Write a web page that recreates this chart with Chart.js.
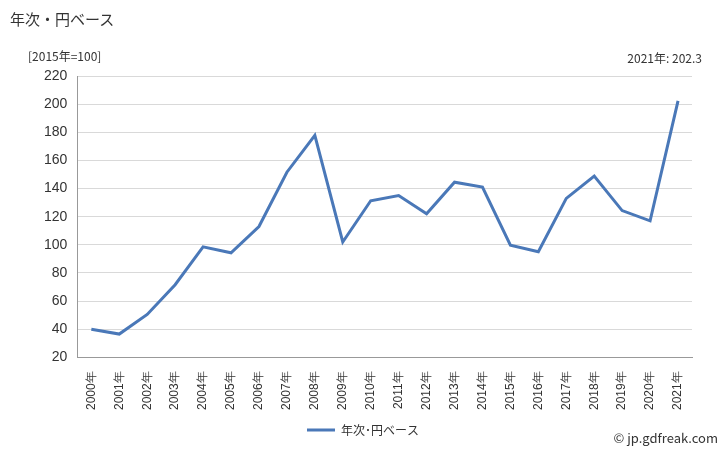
<!DOCTYPE html>
<html><head><meta charset="utf-8">
<script src="https://cdn.jsdelivr.net/npm/chart.js@4"></script>
<style>
body{margin:0;width:728px;height:450px;position:relative;font-family:"Noto Sans CJK JP","Noto Sans",sans-serif;background:#fff}
.t{position:absolute;color:#333;white-space:nowrap}
</style></head><body>
<canvas id="c" width="728" height="450" style="position:absolute;left:0;top:0"></canvas>
<div class="t" style="left:10px;top:8px;font-size:15px">年次・円ベース</div>
<div class="t" style="left:28px;top:47px;font-size:12px">[2015年=100]</div>
<div class="t" style="right:26px;top:49px;font-size:12px">2021年: 202.3</div>
<div class="t" style="right:10px;top:428px;font-size:13px">© jp.gdfreak.com</div>
<script>
const categories=["2000年","2001年","2002年","2003年","2004年","2005年","2006年","2007年","2008年","2009年","2010年","2011年","2012年","2013年","2014年","2015年","2016年","2017年","2018年","2019年","2020年","2021年"];
const values=[40,36.5,50.5,71.6,98.5,94.3,113,151.6,177.8,102,131.3,135,122,144.5,141,99.7,95,133,148.8,124.3,117,202.3];
const seriesName="年次･円ベース";
new Chart(document.getElementById('c'),{type:'line',
data:{labels:categories,datasets:[{label:seriesName,data:values,borderColor:'#4a78b8',backgroundColor:'#4a78b8',borderWidth:3,pointRadius:0,tension:0}]},
options:{responsive:false,animation:false,
layout:{padding:{top:76,left:34,right:36,bottom:4}},
plugins:{legend:{position:'bottom',labels:{boxWidth:28,boxHeight:0,padding:8,color:'#333',font:{size:12,family:'"Noto Sans CJK JP"'}}},tooltip:{enabled:false}},
scales:{
y:{min:20,max:220,ticks:{stepSize:20,padding:10,color:'#333',font:{size:14}},grid:{color:'#d9d9d9',drawTicks:false},border:{display:true,color:'#999'}},
x:{offset:true,ticks:{minRotation:90,maxRotation:90,padding:6,color:'#333',font:{size:12}},grid:{display:false},border:{color:'#999'}}
}}});
</script></body></html>
